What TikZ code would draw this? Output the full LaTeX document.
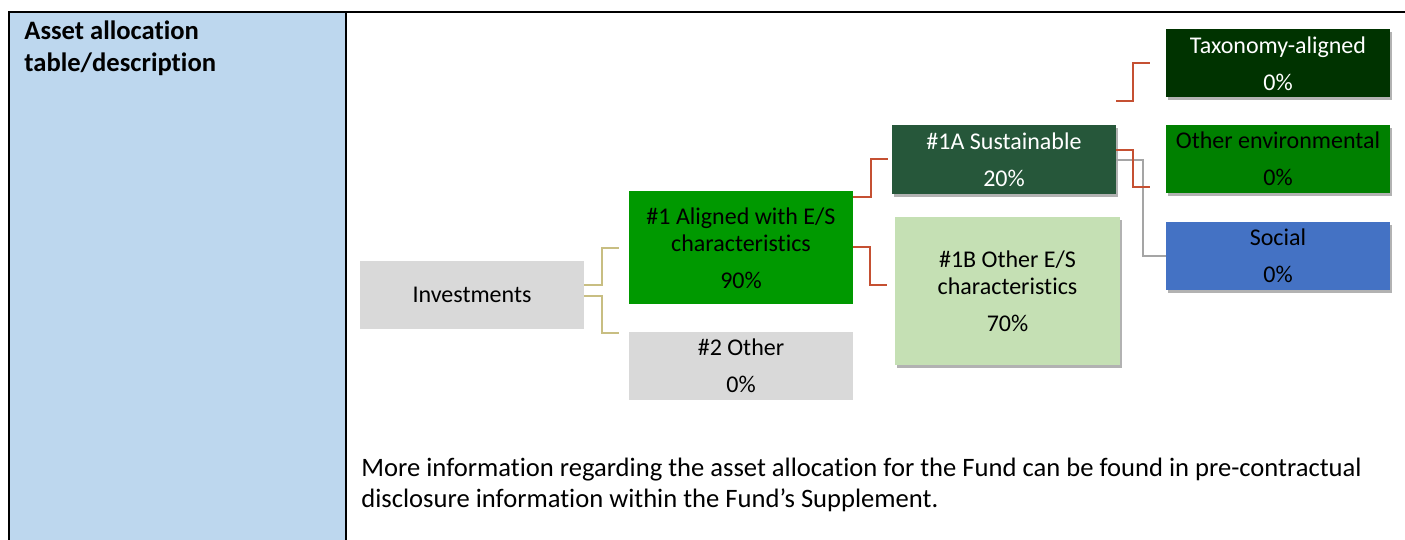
\documentclass[tikz,border=0pt]{standalone}
\usepackage{fontspec}
\setmainfont[Ligatures=NoCommon]{Carlito}
\usetikzlibrary{calc,shadows}
\definecolor{cellblue}{RGB}{189,215,238}
\definecolor{boxgray}{RGB}{217,217,217}
\definecolor{aligngreen}{RGB}{0,153,0}
\definecolor{sustgreen}{RGB}{38,87,58}
\definecolor{othergreen}{RGB}{197,224,180}
\definecolor{taxgreen}{RGB}{0,51,0}
\definecolor{envgreen}{RGB}{0,128,0}
\definecolor{socblue}{RGB}{68,114,196}
\definecolor{lineolive}{RGB}{200,190,130}
\definecolor{linered}{RGB}{197,80,50}
\definecolor{linegray}{RGB}{165,165,165}
\begin{document}
\begin{tikzpicture}[x=0.5pt,y=-0.5pt,
  box/.style={rectangle, inner sep=0pt, align=center,
    font=\fontsize{12}{13.5}\selectfont, minimum width=112pt, minimum height=34pt},
  shad/.style={drop shadow={shadow xshift=1.2pt, shadow yshift=-1.5pt, opacity=0.3, fill=black}},
  olive/.style={draw=lineolive, line width=1pt},
  redline/.style={draw=linered, line width=1pt},
  grayline/.style={draw=linegray, line width=1pt},
  txt/.style={inner sep=0pt, align=left, font=\fontsize{13.3}{15.5}\selectfont}
]
\useasboundingbox (0,0) rectangle (1405,540);
% table cell
\fill[cellblue] (10,12) rectangle (346,540);
\draw[line width=1pt] (9,540) -- (9,12) -- (1405,12);
\draw[line width=1pt] (346,12) -- (346,540);
\node[txt, font=\bfseries\fontsize{13.3}{16}\selectfont, anchor=base west] (head) at (24,72) {Asset allocation\\table/description};

% boxes
\node[box, fill=boxgray] (inv) at (472,295) {Investments};
\node[box, fill=aligngreen, minimum height=56.5pt] (a1) at (741,248) {\#1 Aligned with E/S\\characteristics\\[5pt]90\%};
\node[box, fill=boxgray] (o2) at (741,366) {\#2 Other\\[5pt]0\%};
\node[box, shad, fill=sustgreen, text=white, minimum height=34.5pt] (s1a) at (1004,159.5) {\#1A Sustainable\\[5pt]20\%};
\node[box, shad, fill=othergreen, minimum width=112.5pt, minimum height=74pt] (s1b) at (1007.5,291) {\#1B Other E/S\\characteristics\\[5pt]70\%};
\node[box, shad, fill=taxgreen, text=white] (tax) at (1278,63.5) {Taxonomy-aligned\\[5pt]0\%};
\node[box, shad, fill=envgreen] (oenv) at (1278,159) {Other environmental\\[5pt]0\%};
\node[box, shad, fill=socblue] (soc) at (1278,256) {Social\\[5pt]0\%};

% connectors
\coordinate (taxstart) at ($(s1a.north east)+(0,-24)$);
\draw[olive] ($(inv.east)+(0,-10)$) -- ++(18,0) |- ($(a1.west)+(-10,0)$);
\draw[olive] ($(inv.east)+(0,1)$) -- ++(18,0) |- ($(o2.north west)+(-10,1)$);
\draw[redline] ($(a1.north east)+(0,6)$) -- ++(18,0) |- ($(s1a.west)+(-4,0)$);
\draw[redline] ($(a1.east)+(0,-1)$) -- ++(17,0) |- ($(s1b.west)+(-8,-6)$);
\draw[redline] (taxstart) -- ++(17,0) |- ($(tax.west)+(-16,0)$);
\draw[grayline] ($(s1a.north east)+(0,35)$) -- ++(27,0) |- (soc.west);
\draw[redline] ($(s1a.north east)+(0,25)$) -- ++(17,0) |- ($(oenv.west)+(-16,28)$);

% bottom text
\node[txt, anchor=base west] (info) at (361,507) {More information regarding the asset allocation for the Fund can be found in pre-contractual\\disclosure information within the Fund’s Supplement.};
\end{tikzpicture}
\end{document}
